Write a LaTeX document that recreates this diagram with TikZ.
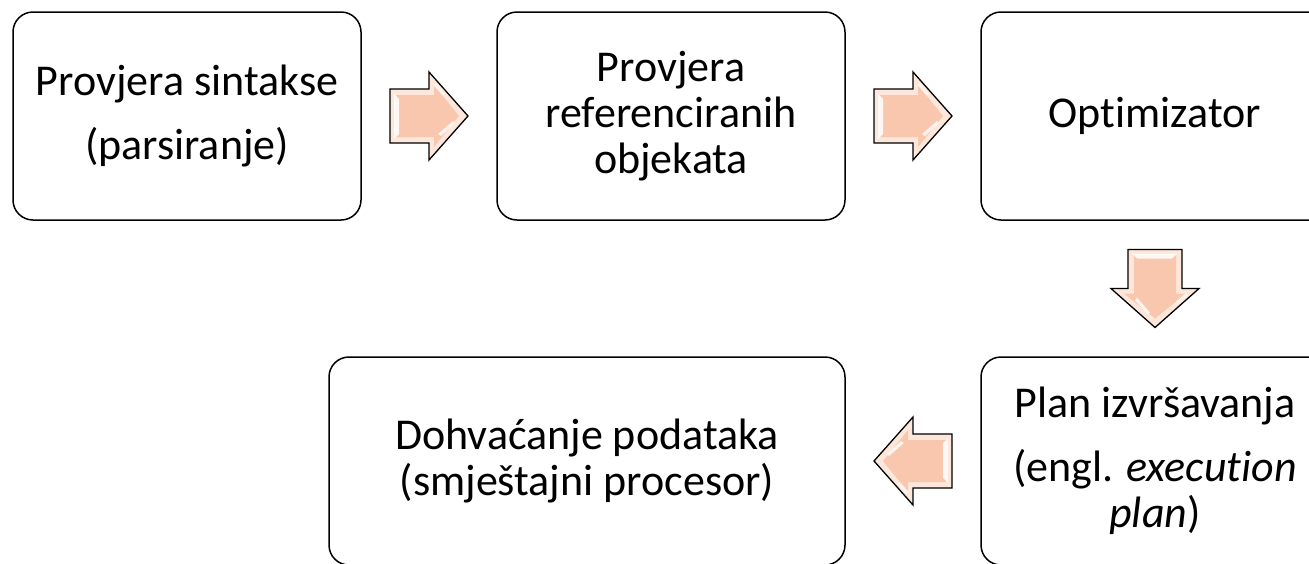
\documentclass[tikz,border=0pt]{standalone}
\usepackage{fontspec}
\setmainfont{Carlito}[Ligatures=NoCommon]
\usetikzlibrary{calc}
\definecolor{peach}{RGB}{248,199,173}
\definecolor{peachlight}{RGB}{253,230,218}

\tikzset{
  stepbox/.style={draw, line width=1.5pt, rounded corners=20pt, minimum width=348pt, minimum height=208pt,
    align=center, inner sep=0pt, font=\fontsize{44}{46}\selectfont},
  flow/.pic={
    \fill[peachlight] (-39,-27) -- (0,-27) -- (0,-44) -- (39,0) -- (0,44) -- (0,27) -- (-39,27) -- cycle;
    \fill[peach] (-33,-21) -- (5,-21) -- (5,-31) -- (30,0) -- (5,31) -- (5,21) -- (-33,21) -- cycle;
    \fill[white, opacity=.85] (-35,-22) -- (-30,-17) -- (-30,18) -- (-35,23) -- cycle;
    \fill[white, opacity=.8] (9,18) -- (24,5) -- (26,7) -- (12,20) -- cycle;
    \fill[white, opacity=.6] (4,-31) -- (7,-33) -- (16,-22) -- (13,-21) -- cycle;
    \draw[line width=1.3pt] (-39,-27) -- (0,-27) -- (0,-44) -- (39,0) -- (0,44) -- (0,27) -- (-39,27) -- cycle;
  }
}

\begin{document}
\begin{tikzpicture}[x=1pt,y=-1pt]
\useasboundingbox (0,0) rectangle (1309,563);
\clip (0,0) rectangle (1309,563);

\node[stepbox] (syntax) at (187,116) {Provjera sintakse\\[18pt](parsiranje)};
\node[stepbox] (refs) at (671,116) {Provjera\\referenciranih\\objekata};
\node[stepbox] (optim) at (1155,116) {Optimizator};
\node[stepbox] (plan) at (1155,461) {Plan izvršavanja\\[18pt](engl. \textit{execution}\\\textit{plan})};
\node[stepbox, minimum width=516pt] (fetch) at (587,461) {Dohvaćanje podataka\\(smještajni procesor)};

% block arrows between the steps
\foreach \a/\b/\r in {syntax.east/refs.west/0, refs.east/optim.west/0,
    optim.south/plan.north/270, plan.west/fetch.east/180}
  \pic[rotate=\r] at ($(\a)!0.5!(\b)$) {flow};
\end{tikzpicture}
\end{document}
